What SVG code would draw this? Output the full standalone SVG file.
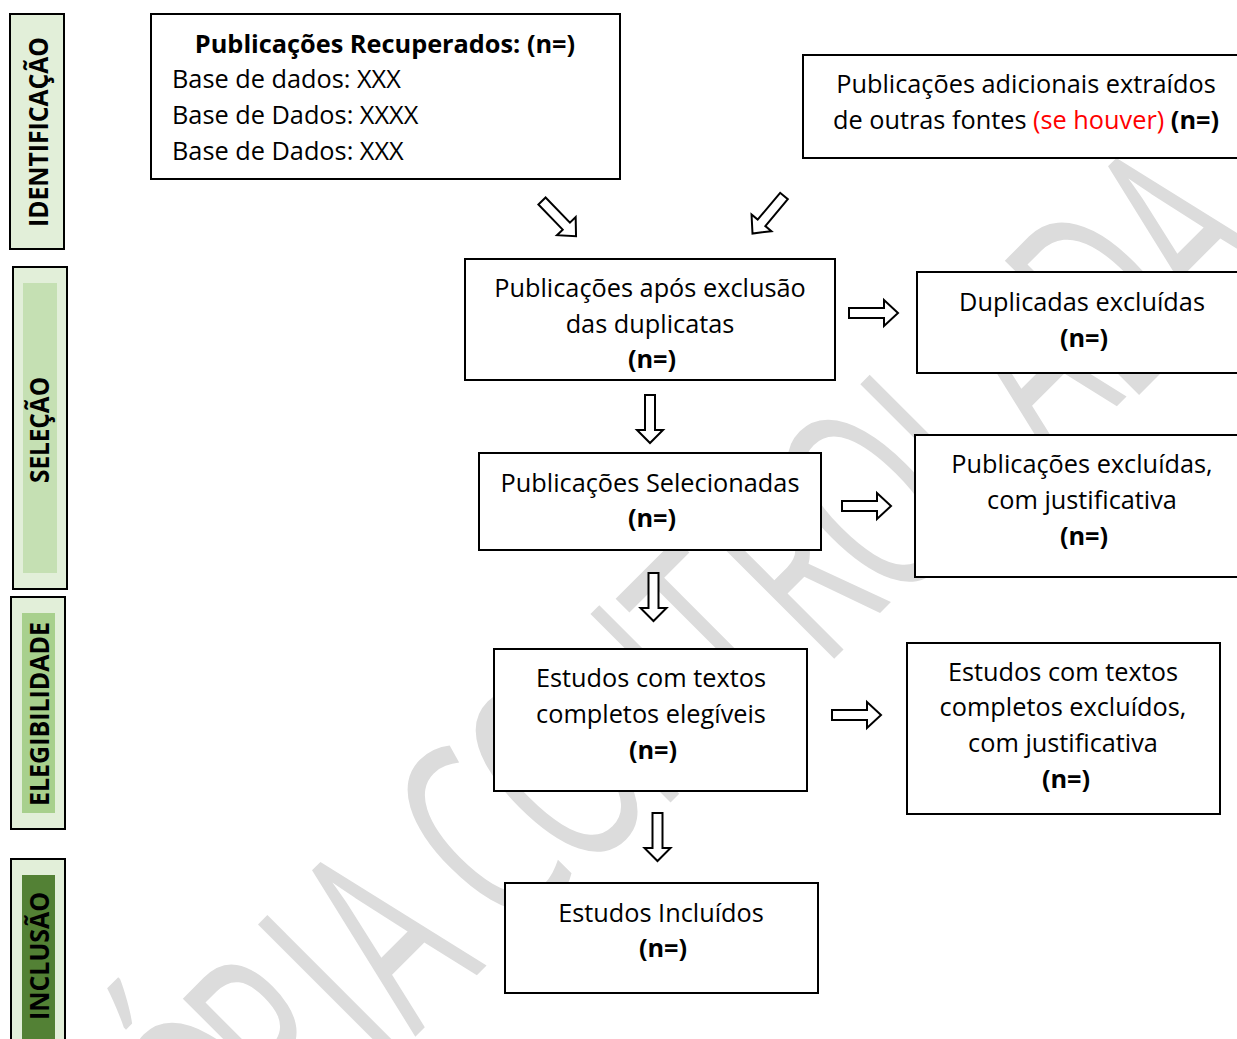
<svg xmlns="http://www.w3.org/2000/svg" width="1237" height="1039" viewBox="0 0 1237 1039">
<style>
.wm{font-family:"Open Sans","Liberation Sans",sans-serif;font-weight:500;font-size:266px;fill:#dcdcdc;text-anchor:middle}
.box{fill:#fff;stroke:#000;stroke-width:2}
.t{font-family:"Open Sans","Liberation Sans",sans-serif;font-size:25.3px;fill:#000}
.c{text-anchor:middle}
.b{font-weight:bold}
.red{fill:#ff0000}
.lab{font-family:"Open Sans","Liberation Sans",sans-serif;font-size:27px;font-weight:bold;fill:#000;text-anchor:middle}
.side{stroke:#000;stroke-width:2}
.arr{fill:#fff;stroke:#000;stroke-width:2;stroke-linejoin:miter}
</style>
<defs>
<path id="rarrow" d="M0,-5 H35 V-13 L49,0 L35,13 V5 H0 Z"/>
<path id="darrow" d="M-5,0 V35 H-13 L0,48 L13,35 H5 V0 Z"/>
</defs>
<rect x="0" y="0" width="1237" height="1039" fill="#fff"/>
<g id="watermark">
<text class="wm" transform="translate(200,1240) rotate(-45) scale(0.6,1)">C</text>
<text class="wm" transform="translate(280,1171) rotate(-45) scale(0.6,1)">Ó</text>
<text class="wm" transform="translate(340,1110) rotate(-45) scale(0.6,1)">P</text>
<text class="wm" transform="translate(397,1054) rotate(-45) scale(0.6,1)">I</text>
<text class="wm" transform="translate(451,1001) rotate(-45) scale(0.6,1)">A</text>
<text class="wm" transform="translate(546,906) rotate(-45) scale(0.6,1)">C</text>
<text class="wm" transform="translate(624,838) rotate(-45) scale(0.6,1)">O</text>
<text class="wm" transform="translate(702,771) rotate(-45) scale(0.6,1)">N</text>
<text class="wm" transform="translate(780,703) rotate(-45) scale(0.6,1)">T</text>
<text class="wm" transform="translate(858,635) rotate(-45) scale(0.6,1)">R</text>
<text class="wm" transform="translate(936,568) rotate(-45) scale(0.6,1)">O</text>
<text class="wm" transform="translate(1013,500) rotate(-45) scale(0.6,1)">L</text>
<text class="wm" transform="translate(1091,432) rotate(-45) scale(0.6,1)">A</text>
<text class="wm" transform="translate(1169,365) rotate(-45) scale(0.6,1)">D</text>
<text class="wm" transform="translate(1247,297) rotate(-45) scale(0.6,1)">A</text>
</g>
<g id="stage-identificacao">
<rect class="side" x="10" y="14" width="54" height="235" fill="#e2efd9"/>
<text class="lab" transform="translate(48,132) rotate(-90)" textLength="190" lengthAdjust="spacingAndGlyphs">IDENTIFICAÇÃO</text>
</g>
<g id="stage-selecao">
<rect class="side" x="13" y="267" width="54" height="322" fill="#e2efd9"/>
<rect x="23" y="283" width="34" height="290" fill="#c5e0b3"/>
<text class="lab" transform="translate(49,430) rotate(-90)" textLength="106" lengthAdjust="spacingAndGlyphs">SELEÇÃO</text>
</g>
<g id="stage-elegibilidade">
<rect class="side" x="11" y="597" width="54" height="232" fill="#e2efd9"/>
<rect x="22" y="613" width="33" height="200" fill="#a8d08d"/>
<text class="lab" transform="translate(49,714) rotate(-90)" textLength="184" lengthAdjust="spacingAndGlyphs">ELEGIBILIDADE</text>
</g>
<g id="stage-inclusao">
<rect class="side" x="11" y="859" width="54" height="190" fill="#e2efd9"/>
<rect x="22" y="875" width="33" height="170" fill="#538135"/>
<text class="lab" transform="translate(49,956) rotate(-90)" textLength="128" lengthAdjust="spacingAndGlyphs">INCLUSÃO</text>
</g>
<g id="connectors">
<use href="#rarrow" class="arr" transform="translate(542,201) rotate(46)"/>
<use href="#rarrow" class="arr" transform="translate(784,196) rotate(130)"/>
<use href="#rarrow" class="arr" transform="translate(849,313)"/>
<use href="#rarrow" class="arr" transform="translate(842,506)"/>
<use href="#rarrow" class="arr" transform="translate(832,715)"/>
<use href="#darrow" class="arr" transform="translate(650,395)"/>
<use href="#darrow" class="arr" transform="translate(653.5,573)"/>
<use href="#darrow" class="arr" transform="translate(657.5,813)"/>
</g>
<g id="node-recuperados">
<rect class="box" x="151" y="14" width="469" height="165"/>
<text class="t c b" x="385" y="53">Publicações Recuperados: (n=)</text>
<text class="t" x="172" y="88">Base de dados: XXX</text>
<text class="t" x="172" y="124">Base de Dados: XXXX</text>
<text class="t" x="172" y="160">Base de Dados: XXX</text>
</g>
<g id="node-adicionais">
<rect class="box" x="803" y="55" width="440" height="103"/>
<text class="t c" x="1026" y="93">Publicações adicionais extraídos</text>
<text class="t c" x="1026" y="129">de outras fontes <tspan class="red">(se houver)</tspan> <tspan class="b">(n=)</tspan></text>
</g>
<g id="node-apos-exclusao">
<rect class="box" x="465" y="259" width="370" height="121"/>
<text class="t c" x="650" y="297">Publicações após exclusão</text>
<text class="t c" x="650" y="333">das duplicatas</text>
<text class="t c b" x="652" y="368">(n=)</text>
</g>
<g id="node-duplicadas">
<rect class="box" x="917" y="272" width="326" height="101"/>
<text class="t c" x="1082" y="311">Duplicadas excluídas</text>
<text class="t c b" x="1084" y="347">(n=)</text>
</g>
<g id="node-selecionadas">
<rect class="box" x="479" y="453" width="342" height="97"/>
<text class="t c" x="650" y="492">Publicações Selecionadas</text>
<text class="t c b" x="652" y="527">(n=)</text>
</g>
<g id="node-excluidas">
<rect class="box" x="915" y="435" width="328" height="142"/>
<text class="t c" x="1082" y="473">Publicações excluídas,</text>
<text class="t c" x="1082" y="509">com justificativa</text>
<text class="t c b" x="1084" y="545">(n=)</text>
</g>
<g id="node-elegiveis">
<rect class="box" x="494" y="649" width="313" height="142"/>
<text class="t c" x="651" y="687">Estudos com textos</text>
<text class="t c" x="651" y="723">completos elegíveis</text>
<text class="t c b" x="653" y="759">(n=)</text>
</g>
<g id="node-excluidos-texto">
<rect class="box" x="907" y="643" width="313" height="171"/>
<text class="t c" x="1063" y="681">Estudos com textos</text>
<text class="t c" x="1063" y="716">completos excluídos,</text>
<text class="t c" x="1063" y="752">com justificativa</text>
<text class="t c b" x="1066" y="788">(n=)</text>
</g>
<g id="node-incluidos">
<rect class="box" x="505" y="883" width="313" height="110"/>
<text class="t c" x="661" y="922">Estudos Incluídos</text>
<text class="t c b" x="663" y="957">(n=)</text>
</g>
</svg>
